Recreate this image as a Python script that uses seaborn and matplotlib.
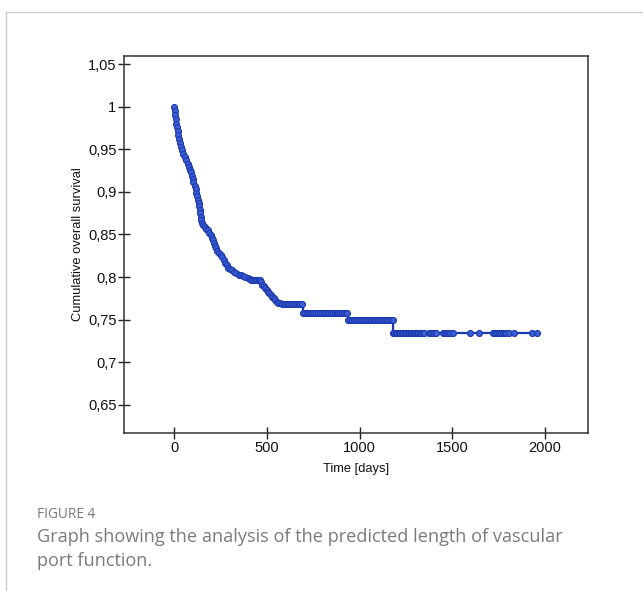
import pandas as pd
import matplotlib.pyplot as plt
import seaborn as sns

# steep part of the curve, one point per observation
days = [0, 3, 6, 9, 12, 15, 18, 22, 26, 30, 35, 42, 50, 58, 66, 74, 80, 86,
        92, 96, 100, 104, 110, 116, 120, 124, 128, 132, 135, 138, 141, 144,
        147, 150, 158, 166, 174, 182, 190, 196, 202, 208, 214, 220, 226, 232,
        240, 250, 260, 268, 276, 284, 292, 300, 312, 324, 336, 348, 360, 372,
        384, 396, 408, 466, 474, 482, 490, 498, 506, 514, 522, 530, 538, 546,
        554, 562, 572, 582]
surv = [1.000, 0.995, 0.990, 0.985, 0.980, 0.976, 0.972, 0.967, 0.962, 0.957,
        0.953, 0.949, 0.945, 0.941, 0.937, 0.933, 0.929, 0.926, 0.923, 0.919,
        0.915, 0.911, 0.907, 0.903, 0.899, 0.895, 0.891, 0.887, 0.883, 0.879,
        0.875, 0.871, 0.867, 0.863, 0.861, 0.859, 0.857, 0.855, 0.852, 0.849,
        0.846, 0.843, 0.840, 0.837, 0.834, 0.831, 0.828, 0.826, 0.823, 0.820,
        0.817, 0.814, 0.811, 0.809, 0.808, 0.806, 0.805, 0.803, 0.802, 0.801,
        0.800, 0.799, 0.798, 0.794, 0.791, 0.789, 0.787, 0.785, 0.783, 0.781,
        0.779, 0.777, 0.775, 0.773, 0.771, 0.770, 0.769, 0.768]

# censored observations on the flat stretches
cens_797 = [416, 424, 432, 440, 448, 456, 462]
cens_768 = [592, 602, 612, 622, 632, 642, 652, 662, 672, 680, 688]
cens_758 = [697, 706, 716, 726, 736, 746, 756, 766, 776, 786, 796, 806, 816,
            826, 836, 846, 856, 866, 876, 886, 896, 906, 916, 926, 933]
cens_750 = [940, 950, 960, 970, 980, 990, 1000, 1010, 1020, 1030, 1040, 1050,
            1060, 1070, 1080, 1090, 1100, 1110, 1120, 1130, 1140, 1150, 1160,
            1170, 1178]
cens_734 = [1180, 1188, 1196, 1204, 1212, 1220, 1228, 1236, 1244, 1252, 1260,
            1268, 1276, 1284, 1292, 1300, 1308, 1316, 1324, 1332, 1340, 1350,
            1372, 1380, 1390, 1400, 1412, 1448, 1458, 1468, 1478, 1490, 1505,
            1596, 1644, 1722, 1732, 1742, 1752, 1762, 1772, 1782, 1792, 1808,
            1833, 1930, 1957]

yticks = [0.65, 0.7, 0.75, 0.8, 0.85, 0.9, 0.95, 1.0, 1.05]
ytick_labels = ['0,65', '0,7', '0,75', '0,8', '0,85', '0,9', '0,95', '1', '1,05']
xticks = [0, 500, 1000, 1500, 2000]

parts = [pd.DataFrame({'day': days, 'surv': surv})]
for lvl, t in [(0.797, cens_797), (0.768, cens_768), (0.758, cens_758),
               (0.750, cens_750), (0.734, cens_734)]:
    parts.append(pd.DataFrame({'day': t, 'surv': [lvl] * len(t)}))
df = pd.concat(parts).sort_values('day').reset_index(drop=True)

sns.set_theme(style='white')
plt.rcParams['font.family'] = ['Liberation Sans', 'DejaVu Sans']

fig = plt.figure(figsize=(6.43, 5.91), dpi=100)
ax = fig.add_axes([0.193, 0.2673, 0.7215, 0.6379])

sns.lineplot(data=df, x='day', y='surv', ax=ax, estimator=None, sort=True,
             drawstyle='steps-post', color='#1a3bb0', linewidth=1.6,
             marker='o', markersize=4.3, markerfacecolor='#3d5fd6',
             markeredgecolor='#1c3aae', markeredgewidth=0.8)

ax.set_xlim(-270, 2232)
ax.set_ylim(0.617, 1.0594)
ax.set_yticks(yticks)
ax.set_yticklabels(ytick_labels)
ax.set_xticks(xticks)
ax.tick_params(bottom=True, left=True, direction='inout', length=9, width=1,
               color='#222', labelsize=10.5, labelcolor='#111', pad=1)
for sp in ax.spines.values():
    sp.set_color('#333')
    sp.set_linewidth(1.1)
ax.set_xlabel('Time [days]', fontsize=9.3, color='#111', labelpad=6)
ax.set_ylabel('Cumulative overall survival', fontsize=9.3, color='#111', labelpad=3)

# card border around the figure
fig.add_artist(plt.Line2D([6 / 643, 6 / 643], [0, 1 - 12 / 591],
                          transform=fig.transFigure, color='#cccccc', lw=1))
fig.add_artist(plt.Line2D([6 / 643, 1], [1 - 12 / 591, 1 - 12 / 591],
                          transform=fig.transFigure, color='#cccccc', lw=1))

cap = ['Open Sans', 'DejaVu Sans']
fig.text(37 / 643, 1 - 515 / 591, 'FIGURE 4', fontsize=9.8, color='#777777',
         family=cap, va='center')
fig.text(37 / 643, 1 - 537 / 591,
         'Graph showing the analysis of the predicted length of vascular',
         fontsize=13.1, color='#7a7a7a', family=cap, va='center')
fig.text(37 / 643, 1 - 561 / 591, 'port function.', fontsize=13.1,
         color='#7a7a7a', family=cap, va='center')

plt.savefig('out.png', dpi=100)
